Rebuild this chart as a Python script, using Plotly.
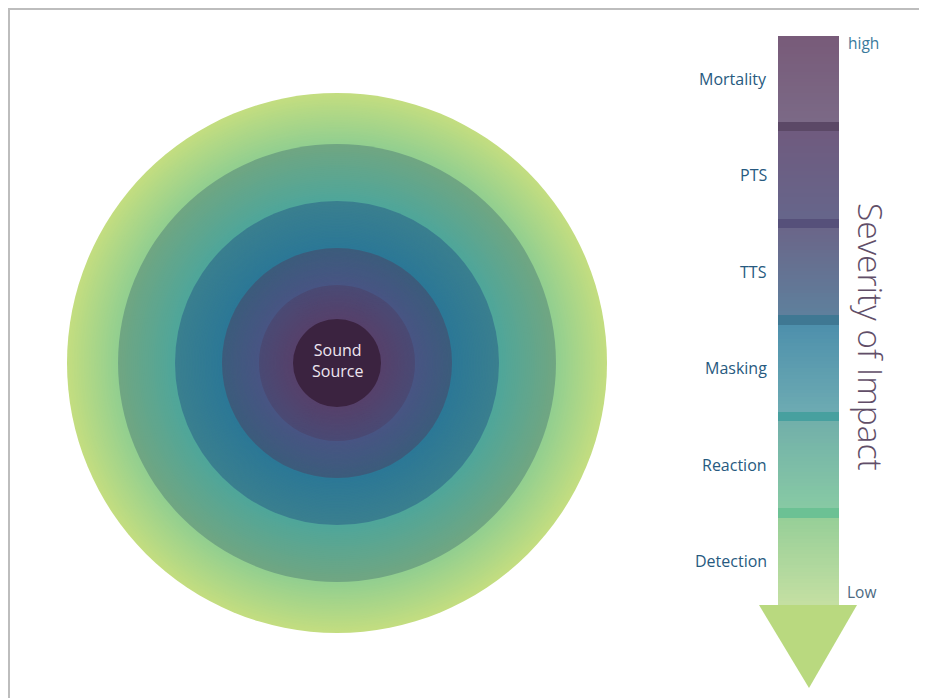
import plotly.graph_objects as go

# ---------------- data ----------------
levels = ["Detection", "Reaction", "Masking", "TTS", "PTS", "Mortality"]   # low -> high
ring_rel_radius = [1.0, 0.811, 0.600, 0.426, 0.289, 0.163]                   # outer -> inner (relative extent)
scale_top_label = "high"
scale_bottom_label = "Low"
axis_title = "Severity of Impact"
center_label = "Sound<br>Source"

# ---------------- styles ----------------
ring_colors = [  # (outer edge, inner edge) for each ring, outer -> inner
    ("#c3dd80", "#92cf90"),
    ("#70a682", "#4fa69a"),
    ("#3a7f8f", "#2c7896"),
    ("#3c5c7c", "#485583"),
    ("#4a4a74", "#56416b"),
    ("#3b2340", "#3b2340"),
]
seg_colors = [  # (top, bottom) low -> high
    ("#97cf98", "#c4dfa2"),
    ("#72b0aa", "#87c9a4"),
    ("#4e90ac", "#6caab2"),
    ("#6a6689", "#5f7f9c"),
    ("#6f5b7f", "#66658a"),
    ("#785b79", "#7b6986"),
]
sep_colors = ["#6cc194", "#47a09f", "#3f7893", "#56507a", "#5b4866"]  # separator above each level
arrow_color = "#b9d97f"
label_color = "#275a80"
FONT = "Open Sans"

# page geometry (the page body has an 8px margin, so the figure starts at 8,8)
OFF = 8
W, H = 927, 698
CX, CY, R_OUT = 337, 363, 270
BAR_X, BAR_W = 808.5, 61
BAR_BOTTOM_PX, BAR_TOP_PX = 605, 36
SEG_PX = 96.6
SEP = 0.098
TOP_UNITS = (BAR_BOTTOM_PX - BAR_TOP_PX) / SEG_PX
FW, FH = W - OFF, H - OFF


def hex2rgb(h):
    h = h.lstrip("#")
    return [int(h[i:i + 2], 16) for i in (0, 2, 4)]


def mix(c1, c2, t):
    a, b = hex2rgb(c1), hex2rgb(c2)
    return "rgb(%d,%d,%d)" % tuple(round(a[i] + (b[i] - a[i]) * t) for i in range(3))


shapes = []
# border
shapes.append(dict(type="line", xref="x", yref="y", x0=9, x1=9, y0=9, y1=H,
                   line=dict(color="#bdbdbd", width=2)))
shapes.append(dict(type="line", xref="x", yref="y", x0=8, x1=W, y0=9, y1=9,
                   line=dict(color="#bdbdbd", width=2)))

# concentric rings with radial gradient
N = 30
for k, rel in enumerate(ring_rel_radius):
    r_outer = rel * R_OUT
    r_inner = ring_rel_radius[k + 1] * R_OUT if k + 1 < len(ring_rel_radius) else 0
    c_out, c_in = ring_colors[k]
    steps = N if k + 1 < len(ring_rel_radius) else 1
    for j in range(steps):
        t = j / max(steps - 1, 1)
        r = r_outer - (r_outer - r_inner) * j / steps
        shapes.append(dict(type="circle", xref="x", yref="y", x0=CX - r, x1=CX + r, y0=CY - r, y1=CY + r,
                           fillcolor=mix(c_out, c_in, t), line=dict(width=0), layer="below"))

# arrow head
shapes.append(dict(type="path", xref="x", yref="y",
                   path="M 759 605 L 857 605 L 809 688 Z", fillcolor=arrow_color, line=dict(width=0)))

# bar segments (gradient)
bx, by, bb, bc = [], [], [], []
NS = 24
for i, name in enumerate(levels):
    top_c, bot_c = seg_colors[i]
    b0 = i
    b1 = (i + 1 - SEP) if i < len(levels) - 1 else TOP_UNITS
    dh = (b1 - b0) / NS
    for j in range(NS):
        base = b1 - (j + 1) * dh
        bx.append(BAR_X); bb.append(base); by.append(dh * 1.06); bc.append(mix(top_c, bot_c, j / (NS - 1)))
    if i < len(levels) - 1:
        bx.append(BAR_X); bb.append(i + 1 - SEP); by.append(SEP); bc.append(sep_colors[i])

fig = go.Figure()
fig.add_trace(go.Bar(x=bx, y=by, base=bb, width=BAR_W, marker=dict(color=bc, line=dict(width=0)),
                     yaxis="y2", hoverinfo="skip", showlegend=False))

annotations = []
for i, name in enumerate(levels):
    b1 = (i + 1 - SEP) if i < len(levels) - 1 else TOP_UNITS
    annotations.append(dict(x=769, y=(i + b1) / 2, xref="x", yref="y2", text=name, showarrow=False,
                            xanchor="right", yanchor="middle", font=dict(family=FONT, size=16, color=label_color)))
annotations.append(dict(x=846, y=TOP_UNITS - 0.07, xref="x", yref="y2", text=scale_top_label, showarrow=False,
                        xanchor="left", yanchor="middle", font=dict(family=FONT, size=15.5, color="#3a7a9c")))
annotations.append(dict(x=845, y=0.13, xref="x", yref="y2", text=scale_bottom_label, showarrow=False,
                        xanchor="left", yanchor="middle", font=dict(family=FONT, size=15.5, color="#4d6a82")))
annotations.append(dict(x=871, y=337, xref="x", yref="y", text=axis_title, showarrow=False, textangle=90,
                        xanchor="center", yanchor="middle",
                        font=dict(family=FONT, size=33.5, color="#614e68", weight=300)))
annotations.append(dict(x=CX, y=CY - 3, xref="x", yref="y", text=center_label, showarrow=False,
                        xanchor="center", yanchor="middle", font=dict(family=FONT, size=16, color="#eee6f0")))

fig.update_layout(
    width=FW, height=FH, margin=dict(l=0, r=0, t=0, b=0),
    paper_bgcolor="white", plot_bgcolor="rgba(0,0,0,0)",
    xaxis=dict(range=[OFF, W], visible=False, fixedrange=True),
    yaxis=dict(range=[H, OFF], visible=False, fixedrange=True),
    yaxis2=dict(domain=[(H - BAR_BOTTOM_PX) / FH, (H - BAR_TOP_PX) / FH], range=[0, TOP_UNITS],
                anchor="x", visible=False, fixedrange=True),
    barmode="overlay", bargap=0,
    shapes=shapes, annotations=annotations, showlegend=False,
)
fig.write_html("out.html", config={"displayModeBar": False})
